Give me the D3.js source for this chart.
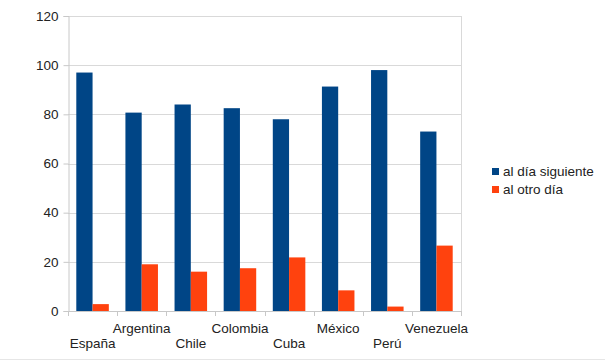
<!DOCTYPE html>
<html>
<head>
<meta charset="utf-8">
<script src="https://cdn.jsdelivr.net/npm/d3@7"></script>
<style>
  body { margin: 0; background: #fff; }
  svg { display: block; font-family: "Liberation Sans", Arial, sans-serif; }
</style>
</head>
<body>
<svg id="chart"></svg>
<script>
const categories = ["España", "Argentina", "Chile", "Colombia", "Cuba", "México", "Perú", "Venezuela"];
const seriesNames = ["al día siguiente", "al otro día"];
const siguiente = [97, 80.7, 84, 82.5, 78, 91.3, 98, 73];
const otroDia = [2.8, 19, 16, 17.4, 21.8, 8.4, 1.8, 26.6];
const yTicks = [0, 20, 40, 60, 80, 100, 120];
const colors = ["#004586", "#ff420e"];

const width = 605, height = 362;
const plotLeft = 68, plotRight = 461, plotTop = 16, plotBottom = 311;

const svg = d3.select("#chart").attr("width", width).attr("height", height);

const x = d3.scaleBand().domain(categories).range([plotLeft, plotRight]);
const inner = d3.scaleBand().domain(seriesNames).range([0, x.bandwidth()]).paddingOuter(0.51);
const y = d3.scaleLinear().domain([0, 120]).range([plotBottom, plotTop]);

// gridlines
svg.append("g")
  .selectAll("line")
  .data(yTicks)
  .enter().append("line")
  .attr("x1", plotLeft).attr("x2", plotRight)
  .attr("y1", d => Math.round(y(d)) + 0.5)
  .attr("y2", d => Math.round(y(d)) + 0.5)
  .attr("stroke", "#d9d9d9");

svg.append("line")
  .attr("x1", plotRight + 0.5).attr("x2", plotRight + 0.5)
  .attr("y1", plotTop).attr("y2", plotBottom)
  .attr("stroke", "#d9d9d9");

const rows = categories.map((c, i) => ({ c, vals: [siguiente[i], otroDia[i]] }));

svg.append("g")
  .selectAll("g")
  .data(rows)
  .enter().append("g")
  .attr("transform", d => `translate(${x(d.c)},0)`)
  .selectAll("rect")
  .data(d => d.vals.map((v, k) => ({ v, k })))
  .enter().append("rect")
  .attr("x", d => inner(seriesNames[d.k]))
  .attr("width", inner.bandwidth())
  .attr("y", d => y(d.v))
  .attr("height", d => y(0) - y(d.v))
  .attr("fill", d => colors[d.k]);

// y axis
const yAxis = svg.append("g")
  .attr("transform", `translate(${plotLeft + 0.5},0)`)
  .call(d3.axisLeft(y).tickValues(yTicks).tickSize(5).tickPadding(5));
yAxis.selectAll("line, path").attr("stroke", "#c8c8c8");
yAxis.selectAll("text").attr("font-size", 13.5).attr("fill", "#222")
  .attr("font-family", "Liberation Sans, Arial, sans-serif");

// x axis baseline and ticks at category boundaries
const xg = svg.append("g");
xg.append("line")
  .attr("x1", plotLeft).attr("x2", plotRight)
  .attr("y1", plotBottom + 0.5).attr("y2", plotBottom + 0.5)
  .attr("stroke", "#c8c8c8");
xg.selectAll("line.tk")
  .data(categories.concat([null]))
  .enter().append("line")
  .attr("class", "tk")
  .attr("x1", (d, i) => Math.round(plotLeft + i * x.step()) + 0.5)
  .attr("x2", (d, i) => Math.round(plotLeft + i * x.step()) + 0.5)
  .attr("y1", plotBottom).attr("y2", plotBottom + 5)
  .attr("stroke", "#c8c8c8");

xg.selectAll("text")
  .data(categories)
  .enter().append("text")
  .attr("x", d => x(d) + x.bandwidth() / 2)
  .attr("y", (d, i) => i % 2 === 0 ? 348 : 333)
  .attr("text-anchor", "middle")
  .attr("font-size", 13.5)
  .attr("fill", "#222")
  .text(d => d);

// legend
const legend = svg.append("g")
  .selectAll("g")
  .data(seriesNames)
  .enter().append("g")
  .attr("transform", (d, i) => `translate(492,${168 + i * 18})`);
legend.append("rect")
  .attr("width", 7).attr("height", 7)
  .attr("fill", (d, i) => colors[i]);
legend.append("text")
  .attr("x", 11).attr("y", 7.5)
  .attr("font-size", 13.5)
  .attr("fill", "#222")
  .text(d => d);

// faint frame line at bottom
svg.append("line")
  .attr("x1", 0).attr("x2", width)
  .attr("y1", 359.5).attr("y2", 359.5)
  .attr("stroke", "#e6e6e6");
</script>
</body>
</html>
